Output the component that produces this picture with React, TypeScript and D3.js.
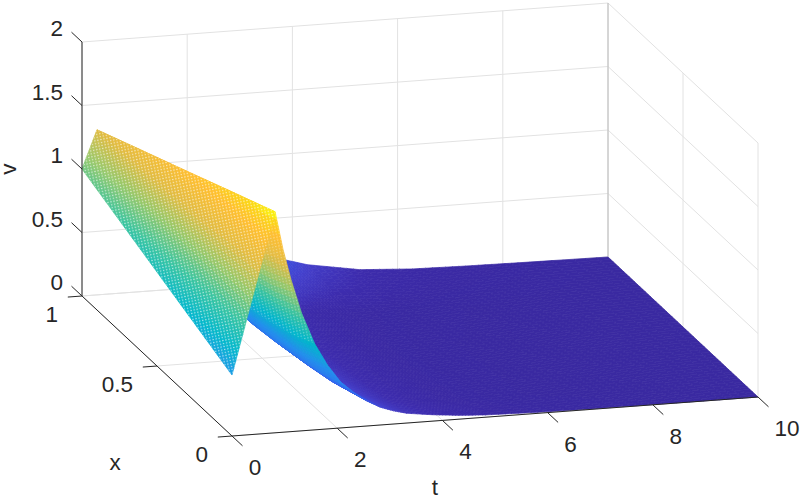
import React, { useEffect, useRef } from 'react';
import * as d3 from 'd3';

const tTicks = [0, 2, 4, 6, 8, 10];
const xTicks = [0, 0.5, 1];
const vTicks = [0, 0.5, 1, 1.5, 2];

// surface: one row per x
const rowX = [0, 0.125, 0.25, 0.375, 0.5, 0.75, 1];
const startV = [0.48, 0.545, 0.61, 0.675, 0.74, 0.87, 1.0]; // v at t = 0
const ridgeT = [0.82, 0.755, 0.69, 0.62, 0.55, 0.42, 0.285];
const decayLag = [0, 0.15, 0.3, 0.5, 0.75, 1, 1.25, 1.5, 1.75, 2, 2.25, 2.5, 3, 3.5, 4, 5, 6, 7, 8];
const decayV = [
  [1.74, 1.44, 1.2, 0.93, 0.68, 0.5, 0.36, 0.27, 0.196, 0.14, 0.104, 0.077, 0.05, 0.03, 0.018, 0.008, 0.004, 0.002, 0.001],
  [1.685, 1.377, 1.124, 0.858, 0.612, 0.436, 0.312, 0.222, 0.158, 0.113, 0.081, 0.057, 0.029, 0.015, 0.008, 0.002, 0.001, 0, 0],
  [1.63, 1.325, 1.077, 0.818, 0.579, 0.411, 0.29, 0.205, 0.145, 0.103, 0.073, 0.052, 0.026, 0.013, 0.007, 0.002, 0.001, 0, 0],
  [1.575, 1.28, 1.041, 0.791, 0.559, 0.397, 0.28, 0.198, 0.14, 0.099, 0.071, 0.05, 0.025, 0.013, 0.006, 0.002, 0.001, 0, 0],
  [1.52, 1.242, 1.014, 0.774, 0.552, 0.394, 0.281, 0.201, 0.143, 0.102, 0.073, 0.052, 0.026, 0.013, 0.007, 0.002, 0.001, 0, 0],
  [1.41, 1.177, 0.984, 0.774, 0.574, 0.424, 0.314, 0.233, 0.172, 0.128, 0.094, 0.07, 0.038, 0.021, 0.012, 0.004, 0.002, 0.001, 0],
  [1.3, 1.12, 0.98, 0.82, 0.68, 0.57, 0.48, 0.41, 0.36, 0.33, 0.31, 0.29, 0.24, 0.175, 0.115, 0.045, 0.02, 0.012, 0.007],
];

// colour map as seen in the picture, by v
const colourV = [0, 0.05, 0.12, 0.2175, 0.33, 0.435, 0.52, 0.6525, 0.87, 1.0875, 1.305, 1.5225, 1.65, 1.74];
const colourStops = ['#3a29a1', '#3d2cae', '#4440cc', '#3560ee', '#2a80ee', '#2490ee', '#18a0e0', '#02b8cc', '#38c4a0', '#96c86a', '#e2bc42', '#ffbe30', '#fcd418', '#f9fb0e'];

const WIDTH = 802;
const HEIGHT = 499;
const tickColor = '#262626';
const gridColor = '#e2e2e2';

type P3 = [number, number, number];

// oblique projection of the MATLAB axes box
const sx = { t: d3.scaleLinear().domain([0, 10]).range([0, 526]), x: d3.scaleLinear().domain([0, 1]).range([232, 82]) };
const sy = {
  t: d3.scaleLinear().domain([0, 10]).range([0, -39]),
  x: d3.scaleLinear().domain([0, 1]).range([436, 296]),
  v: d3.scaleLinear().domain([0, 2]).range([0, -254]),
};
const project = ([t, x, v]: P3): [number, number] => [sx.x(x) + sx.t(t), sy.x(x) + sy.t(t) + sy.v(v)];
const depth = ([t, x, v]: P3) => t + 0.35 * x - 0.417 * v;

const colour = d3.scaleLinear<string>().domain(colourV).range(colourStops).interpolate(d3.interpolateRgb).clamp(true);

// corner of the surface at row r, column c; column -1 is the t = 0 edge
const corner = (r: number, c: number): P3 => {
  if (c < 0) return [0, rowX[r], startV[r]];
  const t = c === decayLag.length ? 10 : ridgeT[r] + decayLag[c];
  const v = c === decayLag.length ? 0 : decayV[r][c];
  return [t, rowX[r], v];
};

const mix = (a: P3, b: P3, f: number): P3 => [a[0] + (b[0] - a[0]) * f, a[1] + (b[1] - a[1]) * f, a[2] + (b[2] - a[2]) * f];

function cellQuads(r: number, c: number, nx: number, nt: number) {
  const a = corner(r, c), b = corner(r, c + 1), e = corner(r + 1, c), f = corner(r + 1, c + 1);
  const out: { pts: P3[]; d: number; v: number }[] = [];
  const at = (i: number, j: number) => mix(mix(a, b, j / nt), mix(e, f, j / nt), i / nx);
  for (let i = 0; i < nx; i++) {
    for (let j = 0; j < nt; j++) {
      const pts = [at(i, j), at(i, j + 1), at(i + 1, j + 1), at(i + 1, j)];
      out.push({ pts, d: d3.mean(pts, depth) as number, v: d3.mean(pts, (p) => p[2]) as number });
    }
  }
  return out;
}

const polyPath = (pts: P3[]) => {
  const p = d3.path();
  pts.map(project).forEach(([a, b], i) => (i ? p.lineTo(a, b) : p.moveTo(a, b)));
  p.closePath();
  return p.toString();
};

export default function App() {
  const ref = useRef<SVGSVGElement>(null);

  useEffect(() => {
    const svg = d3.select(ref.current);
    svg.selectAll('*').remove();

    svg
      .append('defs')
      .append('pattern')
      .attr('id', 'meshDots')
      .attr('patternUnits', 'userSpaceOnUse')
      .attr('width', 3.1)
      .attr('height', 3)
      .attr('patternTransform', 'rotate(-12)')
      .append('circle')
      .attr('cx', 1.5)
      .attr('cy', 1.5)
      .attr('r', 0.75)
      .attr('fill', '#fff')
      .attr('fill-opacity', 0.65);

    const line = (g: any, a: P3, b: P3, color: string, width = 1) => {
      const [x1, y1] = project(a);
      const [x2, y2] = project(b);
      g.append('line').attr('x1', x1).attr('y1', y1).attr('x2', x2).attr('y2', y2).attr('stroke', color).attr('stroke-width', width);
    };

    // grid on floor and the two back walls
    const grid = svg.append('g');
    vTicks.forEach((v) => {
      line(grid, [0, 1, v], [10, 1, v], gridColor);
      line(grid, [10, 1, v], [10, 0, v], gridColor);
    });
    tTicks.forEach((t) => {
      line(grid, [t, 1, 0], [t, 1, 2], t === 10 ? '#c8c8c8' : gridColor);
      line(grid, [t, 1, 0], [t, 0, 0], gridColor);
    });
    xTicks.forEach((x) => {
      line(grid, [0, x, 0], [10, x, 0], gridColor);
      line(grid, [10, x, 0], [10, x, 2], x === 1 ? '#c8c8c8' : gridColor);
    });

    // decaying part, far to near
    const rows = d3.range(rowX.length - 1);
    const decay = rows.flatMap((r) => d3.range(decayLag.length).flatMap((c) => cellQuads(r, c, rowX[r + 1] - rowX[r] > 0.2 ? 14 : 7, c < 12 ? 5 : 8)));
    decay.sort((a, b) => b.d - a.d);
    const drawQuads = (g: any, quads: typeof decay) =>
      g
        .selectAll('path')
        .data(quads)
        .enter()
        .append('path')
        .attr('d', (q: any) => polyPath(q.pts))
        .attr('fill', (q: any) => colour(q.v))
        .attr('stroke', (q: any) => colour(q.v))
        .attr('stroke-width', 0.7);
    drawQuads(svg.append('g'), decay);

    // mesh holes show through close behind the ridge, following the x = 0 edge
    const last = rowX.length - 1;
    const holeCols = d3.range(0, 5);
    const holeEdge: P3[] = [
      ...holeCols.map((c) => corner(0, c)),
      ...rows.map((r) => corner(r + 1, 4)),
      ...rows.map((r) => corner(last - r - 1, 0)),
    ];
    svg
      .append('path')
      .attr('d', polyPath(holeEdge))
      .attr('fill', 'url(#meshDots)')
      .attr('opacity', 0.55);

    // rising face from t = 0 to the ridge
    const rising = rows.flatMap((r) => cellQuads(r, -1, rowX[r + 1] - rowX[r] > 0.2 ? 14 : 7, 24));
    rising.sort((a, b) => b.d - a.d);
    drawQuads(svg.append('g'), rising);
    svg
      .append('path')
      .attr('d', polyPath([corner(0, -1), corner(0, 0), corner(last, 0), corner(last, -1)]))
      .attr('fill', 'url(#meshDots)');

    // axes
    const axes = svg.append('g');
    line(axes, [0, 1, 0], [0, 1, 2], tickColor);
    line(axes, [0, 1, 0], [0, 0, 0], tickColor);
    line(axes, [0, 0, 0], [10, 0, 0], tickColor);
    vTicks.forEach((v) => line(axes, [0, 1, v], [0, 1.07, v], tickColor));
    xTicks.forEach((x) => line(axes, [0, x, 0], [-0.27, x, 0], tickColor));
    tTicks.forEach((t) => line(axes, [t, 0, 0], [t, -0.07, 0], tickColor));

    const label = (s: string, px: number, py: number, anchor = 'middle') =>
      svg
        .append('text')
        .text(s)
        .attr('x', px)
        .attr('y', py)
        .attr('text-anchor', anchor)
        .attr('font-family', '"Liberation Sans", Arial, sans-serif')
        .attr('font-size', 22.5)
        .attr('fill', tickColor);

    vTicks.forEach((v) => {
      const [px, py] = project([0, 1, v]);
      label(String(v), px - 19, py - 6, 'end');
    });
    xTicks.forEach((x) => {
      const [px, py] = project([0, x, 0]);
      label(String(x), px - 24, py + 26, 'end');
    });
    tTicks.forEach((t) => {
      const [px, py] = project([t, 0, 0]);
      label(String(t), px + (t === 10 ? 29 : 23), py + 39);
    });
    label('x', 115, 470);
    label('t', 435, 495);
    label('v', 0, 0).attr('transform', 'translate(16 169) rotate(-90)');
  }, []);

  return <svg ref={ref} width={WIDTH} height={HEIGHT} style={{ position: 'absolute', left: 0, top: 0, background: '#fff' }} />;
}
